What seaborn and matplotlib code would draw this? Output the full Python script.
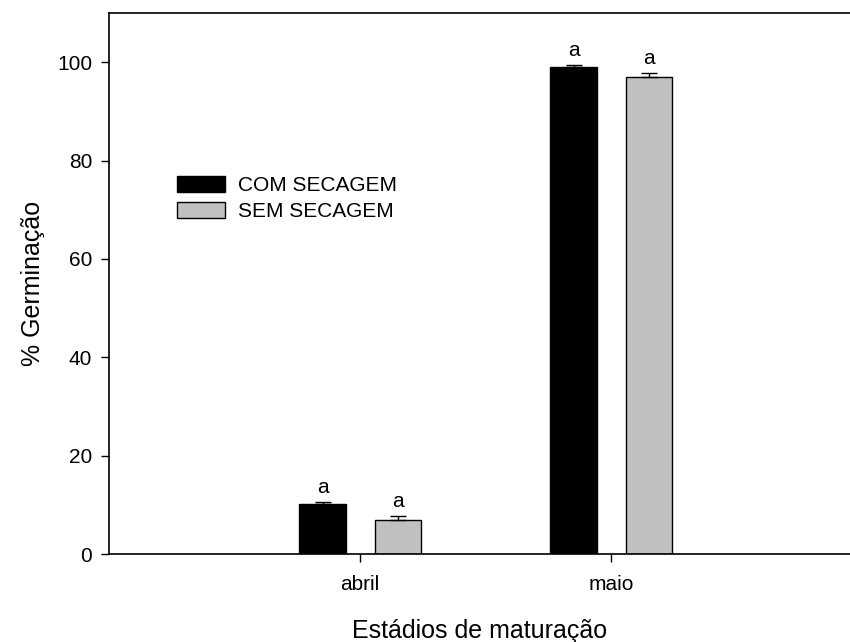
import matplotlib
matplotlib.use("Agg")
import matplotlib.pyplot as plt
import seaborn as sns
import pandas as pd

# data
months = ["abril", "maio"]
treatments = ["COM SECAGEM", "SEM SECAGEM"]
com_secagem = [10.2, 99.0]
sem_secagem = [7.0, 97.0]
com_err = [0.3, 0.4]
sem_err = [0.7, 0.7]
letters_com = ["a", "a"]
letters_sem = ["a", "a"]

colours = {"COM SECAGEM": "black", "SEM SECAGEM": "#c0c0c0"}

df = pd.DataFrame({
    "mes": months * 2,
    "trat": [treatments[0]] * 2 + [treatments[1]] * 2,
    "germ": com_secagem + sem_secagem,
    "err": com_err + sem_err,
    "letra": letters_com + letters_sem,
})

sns.set_style("ticks")
plt.rcParams["font.family"] = ["Liberation Sans", "DejaVu Sans"]
plt.rcParams["text.color"] = "black"
plt.rcParams["axes.labelcolor"] = "black"

fig = plt.figure(figsize=(8.5, 6.42), dpi=100)
ax = fig.add_axes([109 / 850, 88 / 642, 1 - 109 / 850, (554 - 13) / 642])

sns.barplot(data=df, x="mes", y="germ", hue="trat", palette=colours,
            order=months, hue_order=treatments, errorbar=None,
            width=0.60, gap=0.38, edgecolor="black", linewidth=1.0,
            ax=ax)

# error bars (upper only) and letters, placed on the bars seaborn drew
bars = [p for p in ax.patches if p.get_height() > 0][:4]
for bar, (_, row) in zip(bars, df.iterrows()):
    xc = bar.get_x() + bar.get_width() / 2
    h = bar.get_height()
    ax.errorbar(xc, h, yerr=[[0], [row["err"]]], fmt="none", ecolor="black",
                elinewidth=1.0, capsize=5.8, capthick=1.0)
    ax.annotate(row["letra"], (xc, h + row["err"]), xytext=(0, 4),
                textcoords="offset points", ha="center", va="bottom",
                fontsize=15, color="black")

ax.set_xlim(-1.0, 1.95)
ax.set_ylim(0, 110)
ax.set_yticks([0, 20, 40, 60, 80, 100])
ax.tick_params(axis="both", direction="out", length=6, width=1.0,
               labelsize=15, colors="black")
ax.tick_params(axis="x", pad=9)
ax.tick_params(axis="y", pad=6)

for side in ["left", "bottom", "top"]:
    ax.spines[side].set_visible(True)
    ax.spines[side].set_color("black")
    ax.spines[side].set_linewidth(1.2)
ax.spines["right"].set_visible(False)

ax.set_xlabel("Estádios de maturação", fontsize=18, labelpad=18)
ax.set_ylabel("% Germinação", fontsize=18, labelpad=9)

leg = ax.legend(loc="upper left", bbox_to_anchor=(177 / 850, 1 - 176 / 642),
                bbox_transform=fig.transFigure, frameon=False, fontsize=15,
                handlelength=2.3, handleheight=0.77, handletextpad=0.62,
                labelspacing=0.35, borderpad=0, borderaxespad=0)
for t in leg.get_texts():
    t.set_color("black")

fig.savefig("out.png", dpi=100)
